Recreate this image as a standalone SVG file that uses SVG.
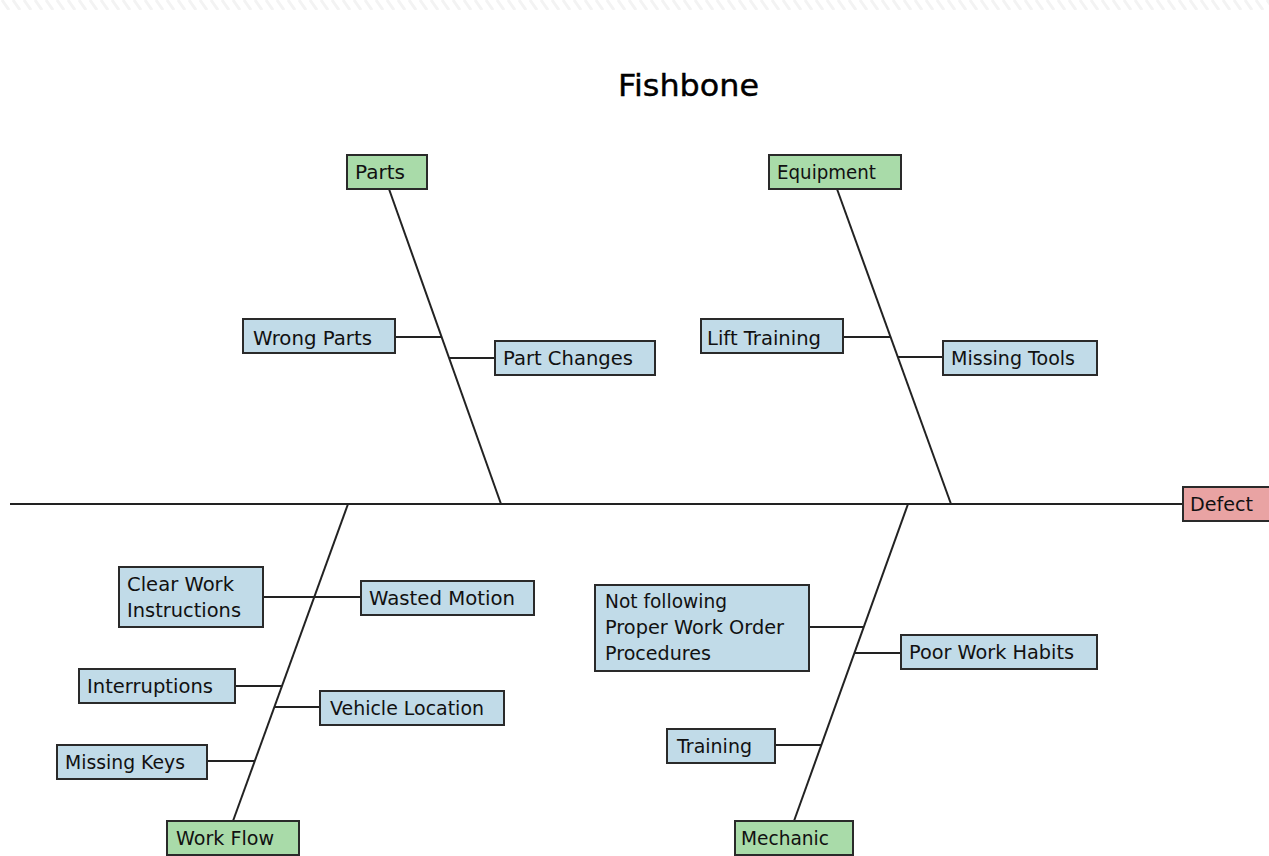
<svg xmlns="http://www.w3.org/2000/svg" width="1269" height="856" viewBox="0 0 1269 856">
  <defs>
    <pattern id="hatch" width="11" height="10" patternUnits="userSpaceOnUse">
      <path d="M2,0 L9,10" stroke="#f3f3f3" stroke-width="3"/>
    </pattern>
    <style>
      .txt { font-family: "DejaVu Sans", Verdana, sans-serif; font-size: 19px; fill: #111; }
      .title { font-family: "DejaVu Sans", Verdana, sans-serif; font-size: 31px; fill: #000; stroke: #000; stroke-width: 0.4; }
      .cat { fill: #a9dba9; stroke: #2a2a2a; stroke-width: 2; }
      .cause { fill: #c1dbe8; stroke: #2a2a2a; stroke-width: 2; }
      .effect { fill: #e9a3a3; stroke: #2a2a2a; stroke-width: 2; }
      .bone { stroke: #222; stroke-width: 2; fill: none; }
    </style>
  </defs>

  <rect width="1269" height="856" fill="#fff"/>
  <rect x="0" y="0" width="1269" height="10" fill="url(#hatch)"/>

  <text class="title" x="618" y="96" textLength="141" lengthAdjust="spacingAndGlyphs">Fishbone</text>

  <!-- spine, bones and branch lines -->
  <g id="connectors">
    <line class="bone" x1="10" y1="504" x2="1183" y2="504"/>
    <line class="bone" x1="389" y1="189" x2="501" y2="504"/>
    <line class="bone" x1="837" y1="189" x2="951" y2="504"/>
    <line class="bone" x1="233" y1="821" x2="348" y2="504"/>
    <line class="bone" x1="794" y1="821" x2="908" y2="504"/>
    <line class="bone" x1="395" y1="337" x2="442" y2="337"/>
    <line class="bone" x1="449" y1="358" x2="495" y2="358"/>
    <line class="bone" x1="843" y1="337" x2="891" y2="337"/>
    <line class="bone" x1="898" y1="357" x2="943" y2="357"/>
    <line class="bone" x1="263" y1="597" x2="361" y2="597"/>
    <line class="bone" x1="235" y1="686" x2="282" y2="686"/>
    <line class="bone" x1="274" y1="707" x2="320" y2="707"/>
    <line class="bone" x1="207" y1="761" x2="255" y2="761"/>
    <line class="bone" x1="809" y1="627" x2="864" y2="627"/>
    <line class="bone" x1="854" y1="653" x2="901" y2="653"/>
    <line class="bone" x1="775" y1="745" x2="821" y2="745"/>
  </g>

  <g id="defect">
    <rect class="effect" x="1183" y="487" width="90" height="34"/>
    <text class="txt" x="1190" y="511" textLength="63" lengthAdjust="spacingAndGlyphs">Defect</text>
  </g>

  <g id="parts">
    <rect class="cat" x="347" y="155" width="80" height="34"/>
    <text class="txt" x="355" y="179" textLength="50" lengthAdjust="spacingAndGlyphs">Parts</text>
  </g>
  <g id="equipment">
    <rect class="cat" x="769" y="155" width="132" height="34"/>
    <text class="txt" x="777" y="179" textLength="99" lengthAdjust="spacingAndGlyphs">Equipment</text>
  </g>
  <g id="work-flow">
    <rect class="cat" x="167" y="821" width="132" height="34"/>
    <text class="txt" x="176" y="845" textLength="98" lengthAdjust="spacingAndGlyphs">Work Flow</text>
  </g>
  <g id="mechanic">
    <rect class="cat" x="735" y="821" width="118" height="34"/>
    <text class="txt" x="741" y="845" textLength="88" lengthAdjust="spacingAndGlyphs">Mechanic</text>
  </g>

  <g id="wrong-parts">
    <rect class="cause" x="243" y="319" width="152" height="34"/>
    <text class="txt" x="253" y="345" textLength="119" lengthAdjust="spacingAndGlyphs">Wrong Parts</text>
  </g>
  <g id="part-changes">
    <rect class="cause" x="495" y="341" width="160" height="34"/>
    <text class="txt" x="503" y="365" textLength="130" lengthAdjust="spacingAndGlyphs">Part Changes</text>
  </g>
  <g id="lift-training">
    <rect class="cause" x="701" y="319" width="142" height="34"/>
    <text class="txt" x="707" y="345" textLength="114" lengthAdjust="spacingAndGlyphs">Lift Training</text>
  </g>
  <g id="missing-tools">
    <rect class="cause" x="943" y="341" width="154" height="34"/>
    <text class="txt" x="951" y="365" textLength="124" lengthAdjust="spacingAndGlyphs">Missing Tools</text>
  </g>

  <g id="clear-work-instructions">
    <rect class="cause" x="119" y="567" width="144" height="60"/>
    <text class="txt" x="127" y="591" textLength="107" lengthAdjust="spacingAndGlyphs">Clear Work</text>
    <text class="txt" x="127" y="617" textLength="114" lengthAdjust="spacingAndGlyphs">Instructions</text>
  </g>
  <g id="wasted-motion">
    <rect class="cause" x="361" y="581" width="173" height="34"/>
    <text class="txt" x="369" y="605" textLength="146" lengthAdjust="spacingAndGlyphs">Wasted Motion</text>
  </g>
  <g id="interruptions">
    <rect class="cause" x="79" y="669" width="156" height="34"/>
    <text class="txt" x="87" y="693" textLength="126" lengthAdjust="spacingAndGlyphs">Interruptions</text>
  </g>
  <g id="vehicle-location">
    <rect class="cause" x="320" y="691" width="184" height="34"/>
    <text class="txt" x="330" y="715" textLength="154" lengthAdjust="spacingAndGlyphs">Vehicle Location</text>
  </g>
  <g id="missing-keys">
    <rect class="cause" x="57" y="745" width="150" height="34"/>
    <text class="txt" x="65" y="769" textLength="120" lengthAdjust="spacingAndGlyphs">Missing Keys</text>
  </g>

  <g id="not-following-procedures">
    <rect class="cause" x="595" y="585" width="214" height="86"/>
    <text class="txt" x="605" y="608" textLength="122" lengthAdjust="spacingAndGlyphs">Not following</text>
    <text class="txt" x="605" y="634" textLength="179" lengthAdjust="spacingAndGlyphs">Proper Work Order</text>
    <text class="txt" x="605" y="660" textLength="106" lengthAdjust="spacingAndGlyphs">Procedures</text>
  </g>
  <g id="poor-work-habits">
    <rect class="cause" x="901" y="635" width="196" height="34"/>
    <text class="txt" x="909" y="659" textLength="165" lengthAdjust="spacingAndGlyphs">Poor Work Habits</text>
  </g>
  <g id="training">
    <rect class="cause" x="667" y="729" width="108" height="34"/>
    <text class="txt" x="677" y="753" textLength="75" lengthAdjust="spacingAndGlyphs">Training</text>
  </g>
</svg>
